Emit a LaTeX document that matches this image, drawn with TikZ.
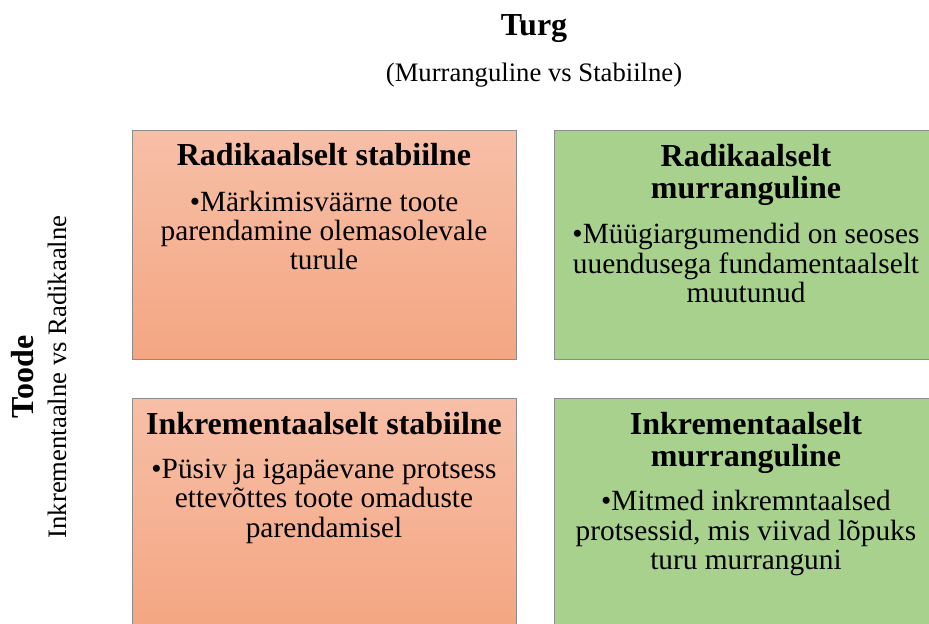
\documentclass[tikz,border=0pt]{standalone}
\usepackage{fontspec}
\setmainfont{Liberation Serif}
\usetikzlibrary{positioning}
\definecolor{salmtop}{HTML}{F7BFA7}
\definecolor{salmbot}{HTML}{F4A682}
\definecolor{leaf}{HTML}{A9D18E}
\definecolor{boxline}{HTML}{8C8C8C}
\begin{document}
\begin{tikzpicture}[x=0.75pt,y=-0.75pt,
    box/.style={rectangle,draw=boxline,line width=0.75pt,minimum width=288pt,minimum height=171.75pt,inner sep=0pt},
    warm box/.style={box,top color=salmtop,bottom color=salmbot},
    cool box/.style={box,fill=leaf},
    head/.style={font=\fontsize{24}{24.2}\selectfont\bfseries,align=center,anchor=base,inner sep=0pt},
    body/.style={font=\fontsize{22}{22}\selectfont,align=center,anchor=base,inner sep=0pt},
    axis title/.style={font=\fontsize{24}{26}\selectfont\bfseries,anchor=base,inner sep=0pt},
    axis note/.style={font=\fontsize{20}{22}\selectfont,anchor=base,inner sep=0pt}]
   \clip (0,0) rectangle (929,624);
   % axes
   \node[axis title] (turg) at (534,36) {Turg};
   \node[axis note] (turgvs) at (534,82) {(Murranguline vs Stabiilne)};
   \node[axis title,rotate=90] (toode) at (33,377) {Toode};
   \node[axis note,rotate=90] (toodevs) at (66,377) {Inkrementaalne vs Radikaalne};
   % quadrants
   \node[warm box] (rs) at (324,245) {};
   \node[cool box] (rm) at (746,245) {};
   \node[warm box] (is) at (324,512.5) {};
   \node[cool box] (im) at (746,512.5) {};
   % texts, placed at the baseline of their last line
   \node[head] (rshead) at (324,166) {Radikaalselt stabiilne};
   \node[body] (rsbody) at (324,270) {•Märkimisväärne toote\\parendamine olemasolevale\\turule};
   \node[head] (rmhead) at (746,198.5) {Radikaalselt\\murranguline};
   \node[body] (rmbody) at (746,302.5) {•Müügiargumendid on seoses\\uuendusega fundamentaalselt\\muutunud};
   \node[head] (ishead) at (324,434) {Inkrementaalselt stabiilne};
   \node[body] (isbody) at (324,537) {•Püsiv ja igapäevane protsess\\ettevõttes toote omaduste\\parendamisel};
   \node[head] (imhead) at (746,466.5) {Inkrementaalselt\\murranguline};
   \node[body] (imbody) at (746,569.5) {•Mitmed inkremntaalsed\\protsessid, mis viivad lõpuks\\turu murranguni};
\end{tikzpicture}
\end{document}
